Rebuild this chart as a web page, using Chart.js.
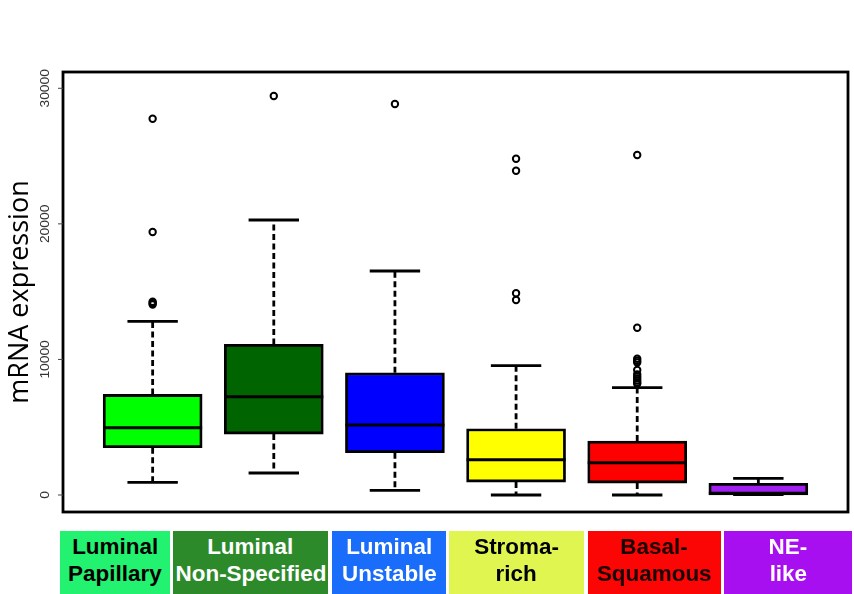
<!DOCTYPE html>
<html>
<head>
<meta charset="utf-8">
<script src="https://cdn.jsdelivr.net/npm/chart.js@4.4.0/dist/chart.umd.min.js"></script>
<style>
  html, body { margin: 0; padding: 0; background: #fff; }
  #wrap { position: relative; width: 854px; height: 594px; overflow: hidden; }
  #c { position: absolute; left: 0; top: 0; }
  .lab { position: absolute; top: 531px; height: 63px; display: flex; flex-direction: column;
         align-items: center; justify-content: center; box-sizing: border-box; padding-bottom: 5px;
         font-family: "Liberation Sans", Arial, sans-serif; font-weight: bold; font-size: 22px; line-height: 27px; }
  .lab span { display: block; white-space: nowrap; transform: scaleX(1.02); }
</style>
</head>
<body>
<div id="wrap">
  <canvas id="c" width="854" height="594"></canvas>
</div>
<script>
// ---- data ----
const categories = [
  ["Luminal", "Papillary"],
  ["Luminal", "Non-Specified"],
  ["Luminal", "Unstable"],
  ["Stroma-", "rich"],
  ["Basal-", "Squamous"],
  ["NE-", "like"]
];
const whiskerLow  = [937, 1623, 347, 0, 0, 30];
const q1          = [3490, 4495, 3125, 955, 880, 0];
const median      = [4960, 7251, 5163, 2604, 2383, 120];
const q3          = [7420, 11110, 9020, 4890, 3985, 860];
const whiskerHigh = [12813, 20285, 16523, 9538, 7915, 1232];
const outliers = [
  [27757, 19400, 14050, 14150, 14250],
  [29431],
  [28841],
  [24806, 23921, 14878, 14384],
  [25080, 12341, 10050, 9900, 9780, 9220, 8900, 8750, 8600, 8450, 8300, 8200],
  []
];
const yTickValues = [0, 10000, 20000, 30000];
const yAxisTitle = "mRNA expression";

// ---- styles ----
const boxColors = ["#00ff00", "#006400", "#0000ff", "#ffff00", "#ff0000", "#a020f0"];
const labelColors = ["#22f26f", "#2d8a2b", "#1a6cfb", "#e1f551", "#fb0505", "#a70ff0"];
const labelTextColors = ["#000", "#fff", "#fff", "#000", "#1a0000", "#fff"];
const labelBoxes = [[60, 170], [173, 328], [332, 446], [449, 584], [588, 721], [724, 852]];

// category label boxes
const wrap = document.getElementById('wrap');
categories.forEach((lines, i) => {
  const d = document.createElement('div');
  d.className = 'lab';
  d.style.left = labelBoxes[i][0] + 'px';
  d.style.width = (labelBoxes[i][1] - labelBoxes[i][0]) + 'px';
  d.style.background = labelColors[i];
  d.style.color = labelTextColors[i];
  lines.forEach(t => { const s = document.createElement('span'); s.textContent = t; d.appendChild(s); });
  wrap.appendChild(d);
});

const boxData = categories.map((c, i) => ({ x: i + 1, y: [q1[i], q3[i]] }));
const outlierData = [];
outliers.forEach((arr, i) => arr.forEach(v => outlierData.push({ x: i + 1, y: v })));

const LW = 2.8;
const boxPlugin = {
  id: 'boxparts',
  beforeDatasetsDraw(chart) {
    const { ctx, scales: { x, y } } = chart;
    ctx.save();
    ctx.strokeStyle = '#000';
    ctx.lineWidth = LW;
    ctx.lineCap = 'butt';
    categories.forEach((c, i) => {
      const cx = x.getPixelForValue(i + 1);
      const half = x.getPixelForValue(i + 1.208) - cx;
      ctx.setLineDash([6, 3.5]);
      ctx.beginPath();
      ctx.moveTo(cx, y.getPixelForValue(q3[i]));
      ctx.lineTo(cx, y.getPixelForValue(whiskerHigh[i]));
      ctx.moveTo(cx, y.getPixelForValue(q1[i]));
      ctx.lineTo(cx, y.getPixelForValue(whiskerLow[i]));
      ctx.stroke();
      ctx.setLineDash([]);
      ctx.beginPath();
      ctx.moveTo(cx - half, y.getPixelForValue(whiskerHigh[i]));
      ctx.lineTo(cx + half, y.getPixelForValue(whiskerHigh[i]));
      ctx.moveTo(cx - half, y.getPixelForValue(whiskerLow[i]));
      ctx.lineTo(cx + half, y.getPixelForValue(whiskerLow[i]));
      ctx.stroke();
    });
    ctx.restore();
  },
  afterDatasetDraw(chart, args) {
    if (args.index !== 0) return;
    const { ctx, scales: { y } } = chart;
    const meta = chart.getDatasetMeta(0);
    ctx.save();
    ctx.strokeStyle = '#000';
    ctx.lineWidth = 3;
    meta.data.forEach((bar, i) => {
      const p = bar.getProps(['x', 'width'], true);
      const my = y.getPixelForValue(median[i]);
      ctx.beginPath();
      ctx.moveTo(p.x - p.width / 2, my);
      ctx.lineTo(p.x + p.width / 2, my);
      ctx.stroke();
    });
    ctx.restore();
  },
  afterDraw(chart) {
    const { ctx, chartArea: a, scales: { y } } = chart;
    ctx.save();
    ctx.strokeStyle = '#000';
    ctx.lineWidth = LW;
    ctx.strokeRect(a.left, a.top, a.right - a.left, a.bottom - a.top);
    ctx.lineWidth = 1;
    ctx.strokeStyle = '#444';
    ctx.fillStyle = '#333';
    ctx.font = '12px "Liberation Sans", Arial, sans-serif';
    ctx.textAlign = 'center';
    ctx.textBaseline = 'middle';
    y.ticks.forEach(t => {
      const py = y.getPixelForValue(t.value);
      ctx.beginPath();
      ctx.moveTo(a.left - 5, py);
      ctx.lineTo(a.left, py);
      ctx.stroke();
      ctx.save();
      ctx.translate(a.left - 17, py);
      ctx.rotate(-Math.PI / 2);
      ctx.scale(1.15, 1);
      ctx.fillText(String(t.value), 0, 0);
      ctx.restore();
    });
    ctx.restore();
  }
};

new Chart(document.getElementById('c'), {
  type: 'bar',
  data: {
    datasets: [
      {
        type: 'bar',
        data: boxData,
        backgroundColor: boxColors,
        borderColor: '#000',
        borderWidth: LW,
        borderSkipped: false,
        barThickness: 99,
        order: 2
      },
      {
        type: 'scatter',
        data: outlierData,
        pointStyle: 'circle',
        pointRadius: 3.2,
        pointBorderWidth: 2,
        pointBorderColor: '#000',
        pointBackgroundColor: 'rgba(0,0,0,0)',
        order: 1
      }
    ]
  },
  options: {
    responsive: false,
    animation: false,
    layout: { padding: { top: 72, right: 3, bottom: 82, left: 0 } },
    plugins: { legend: { display: false }, tooltip: { enabled: false } },
    scales: {
      x: { type: 'linear', min: 0.26, max: 6.74, display: false, offset: false },
      y: {
        min: -1254, max: 31202,
        afterBuildTicks: s => { s.ticks = yTickValues.map(v => ({ value: v })); },
        afterFit: s => { s.width = 63; },
        grid: { display: false },
        border: { display: false },
        ticks: { display: false },
        title: { display: true, text: yAxisTitle, color: '#000',
                 font: { family: 'Open Sans', size: 27 }, padding: { top: 4, bottom: 4 } }
      }
    }
  },
  plugins: [boxPlugin]
});
</script>
</body>
</html>
